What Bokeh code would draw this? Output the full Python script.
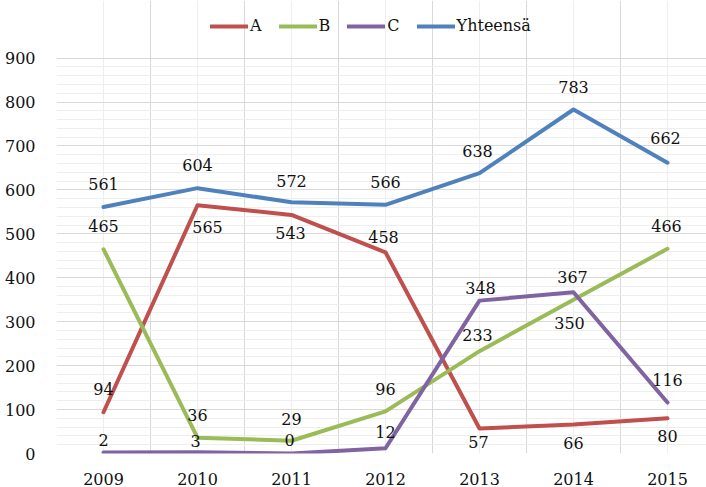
from bokeh.plotting import figure
from bokeh.models import FixedTicker, Legend, LegendItem, ColumnDataSource, Range1d
from bokeh.core.properties import value
from bokeh.embed import file_html
from bokeh.resources import INLINE

years = ["2009", "2010", "2011", "2012", "2013", "2014", "2015"]
series_names = ["A", "B", "C", "Yhteensä"]
a_vals = [94, 565, 543, 458, 57, 66, 80]
b_vals = [465, 36, 29, 96, 233, 350, 466]
c_vals = [2, 3, 0, 12, 348, 367, 116]
total_vals = [561, 604, 572, 566, 638, 783, 662]
y_ticks = [0, 100, 200, 300, 400, 500, 600, 700, 800, 900]

colors = ["#C0504D", "#9BBB59", "#8064A2", "#4F81BD"]
# label placement (screen px, positive = downward)
dy = [
    [-23, 22, 18, -15, 14, 18, 18],
    [-23, -23, -22, -22, -16, 23, -23],
    [-13, -11, -14, -16, -13, -15, -23],
    [-23, -23, -21, -23, -22, -23, -25],
]
dx = [
    [0, 10, -1, -2, -1, 0, 0],
    [0, 0, 0, 0, -2, -4, -1],
    [0, -2, -2, 0, 1, -1, 0],
    [0, 0, 0, 0, -2, 0, -2],
]

FONT = "DejaVu Serif"
FSIZE = "16px"
Y_MAX = 900
# frame spans the legend band too; the chart area ends at Y_MAX
Y_TOP = Y_MAX + 58 / (398 / Y_MAX)

p = figure(width=706, height=487, output_backend="svg", toolbar_location=None,
           x_range=Range1d(-0.5, 6.415), y_range=Range1d(0, Y_TOP),
           min_border_left=56, min_border_right=0, min_border_top=0, min_border_bottom=31)
p.outline_line_color = None
p.background_fill_color = "white"
p.border_fill_color = "white"

xs = list(range(len(years)))

# grids
p.xgrid.ticker = FixedTicker(ticks=[i - 0.5 for i in range(len(years) + 1)], minor_ticks=xs)
p.xgrid.grid_line_color = "#d9d9d9"
p.xgrid.minor_grid_line_color = "#eeeeee"
p.xgrid.bounds = (0, Y_MAX)
p.ygrid.ticker = FixedTicker(ticks=y_ticks, minor_ticks=list(range(0, Y_MAX + 1, 20)))
p.ygrid.grid_line_color = "#d9d9d9"
p.ygrid.minor_grid_line_color = "#eeeeee"

# axes
p.xaxis.ticker = FixedTicker(ticks=xs)
p.xaxis.major_label_overrides = {i: y for i, y in enumerate(years)}
p.yaxis.ticker = FixedTicker(ticks=y_ticks)
for ax in (p.xaxis[0], p.yaxis[0]):
    ax.axis_line_color = None
    ax.major_tick_line_color = None
    ax.minor_tick_line_color = None
    ax.major_label_text_font = FONT
    ax.major_label_text_font_size = FSIZE
    ax.major_label_text_color = "#111111"
p.xaxis.major_label_standoff = 13
p.yaxis.major_label_standoff = 15

items = []
all_vals = [a_vals, b_vals, c_vals, total_vals]
for k, (name, vals, col) in enumerate(zip(series_names, all_vals, colors)):
    r = p.line(xs, vals, line_color=col, line_width=4, line_join="round", line_cap="round")
    items.append(LegendItem(label=name, renderers=[r]))

for k, vals in enumerate(all_vals):
    src = ColumnDataSource(dict(x=xs, y=vals, t=[str(v) for v in vals], dy=dy[k], dx=dx[k]))
    p.text(x="x", y="y", text="t", x_offset="dx", y_offset="dy", source=src,
           text_font=value(FONT), text_font_size=FSIZE, text_color="#111111",
           text_align="center", text_baseline="middle")

legend = Legend(items=items, orientation="horizontal", location=(154, 418),
                border_line_color=None, background_fill_alpha=0,
                label_text_font=FONT, label_text_font_size=FSIZE, label_text_color="#111111",
                glyph_width=38, glyph_height=18, label_standoff=2, spacing=17,
                padding=0, margin=0, label_height=18, label_width=0)
p.add_layout(legend, "center")

open("out.html", "w").write(file_html(p, INLINE))
